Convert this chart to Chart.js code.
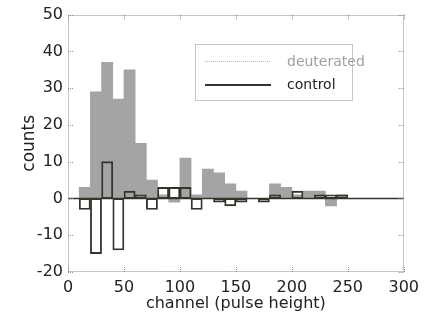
<!DOCTYPE html>
<html>
<head>
<meta charset="utf-8">
<script src="https://cdn.jsdelivr.net/npm/chart.js@4/dist/chart.umd.min.js"></script>
<style>
  html, body { margin: 0; padding: 0; background: #fff; }
  #wrap { width: 425px; height: 323px; }
</style>
</head>
<body>
<div id="wrap"><canvas id="myChart" width="425" height="323"></canvas></div>
<script>
// bin centres (channels), 10 wide bins from 10 to 250
const channels = [15, 25, 35, 45, 55, 65, 75, 85, 95, 105, 115, 125, 135, 145, 155, 165, 175, 185, 195, 205, 215, 225, 235, 245];
const deuterated = [3, 29, 37, 27, 35, 15, 5, 1, -1, 11, 1, 8, 7, 4, 2, 0, 0, 4, 3, 1, 2, 2, -2, 1];
const control = [-3, -15, 10, -14, 2, 1, -3, 3, 3, 3, -3, 0, -1, -2, -1, 0, -1, 1, 0, 2, 0, 1, 1, 1];
const xTicks = [0, 50, 100, 150, 200, 250, 300];
const yTicks = [-20, -10, 0, 10, 20, 30, 40, 50];
const legendLabels = ["deuterated", "control"];

const FONT = "'DejaVu Sans', 'Liberation Sans', Arial, sans-serif";
const GREY = "#a4a4a4";
const DARK = "#34342c";

function toPoints(values) {
  return channels.map((c, i) => ({ x: c, y: values[i] }));
}

// frame, inward ticks, zero line and the boxed legend
const framePlugin = {
  id: "frame",
  afterDatasetsDraw(chart) {
    const { ctx, chartArea: a, scales } = chart;
    const xs = scales.x;
    const ys = scales.y;
    ctx.save();

    const y0 = Math.round(ys.getPixelForValue(0)) + 0.5;
    ctx.strokeStyle = DARK;
    ctx.lineWidth = 1.3;
    ctx.beginPath();
    ctx.moveTo(a.left, y0);
    ctx.lineTo(a.right, y0);
    ctx.stroke();

    ctx.strokeStyle = "#8c8c8c";
    ctx.lineWidth = 1;
    ctx.setLineDash([1, 1]);
    ctx.strokeRect(Math.round(a.left) + 0.5, Math.round(a.top) + 0.5, Math.round(a.width) - 1, Math.round(a.height) - 1);

    const tl = 5;
    ctx.beginPath();
    yTicks.forEach((v) => {
      const py = Math.round(ys.getPixelForValue(v)) + 0.5;
      ctx.moveTo(a.left, py);
      ctx.lineTo(a.left + tl, py);
      ctx.moveTo(a.right, py);
      ctx.lineTo(a.right - tl, py);
    });
    xTicks.forEach((v) => {
      const px = Math.round(xs.getPixelForValue(v)) + 0.5;
      ctx.moveTo(px, a.bottom);
      ctx.lineTo(px, a.bottom - tl);
      ctx.moveTo(px, a.top);
      ctx.lineTo(px, a.top + tl);
    });
    ctx.stroke();

    // legend box
    const lx = 195.5, ly = 44.5, lw = 157, lh = 56;
    ctx.fillStyle = "#fff";
    ctx.fillRect(lx, ly, lw, lh);
    ctx.strokeStyle = "#8c8c8c";
    ctx.strokeRect(lx, ly, lw, lh);

    ctx.strokeStyle = "#b4b4b4";
    ctx.beginPath();
    ctx.moveTo(205, 61.5);
    ctx.lineTo(271, 61.5);
    ctx.stroke();

    ctx.setLineDash([]);
    ctx.strokeStyle = DARK;
    ctx.lineWidth = 2;
    ctx.beginPath();
    ctx.moveTo(205, 85);
    ctx.lineTo(271, 85);
    ctx.stroke();

    ctx.font = "14px " + FONT;
    ctx.textBaseline = "middle";
    ctx.textAlign = "left";
    ctx.fillStyle = "#a0a0a0";
    ctx.fillText(legendLabels[0], 287, 62);
    ctx.fillStyle = "#1e1e1e";
    ctx.fillText(legendLabels[1], 287, 85);
    ctx.restore();
  },
};

new Chart(document.querySelector("#myChart"), {
  type: "bar",
  data: {
    datasets: [
      {
        label: legendLabels[0],
        data: toPoints(deuterated),
        backgroundColor: GREY,
        borderWidth: 0,
        grouped: false,
        barPercentage: 1,
        categoryPercentage: 1,
        order: 2,
      },
      {
        label: legendLabels[1],
        data: toPoints(control),
        backgroundColor: "transparent",
        borderColor: DARK,
        borderWidth: 1.2,
        borderSkipped: false,
        grouped: false,
        barPercentage: 1,
        categoryPercentage: 1,
        order: 1,
      },
    ],
  },
  options: {
    responsive: false,
    animation: false,
    layout: { padding: { top: 13, right: 17, left: 0, bottom: 0 } },
    plugins: {
      legend: { display: false },
      tooltip: { enabled: false },
    },
    scales: {
      x: {
        type: "linear",
        min: 0,
        max: 300,
        offset: false,
        afterFit(scale) {
          scale.height = 51;
        },
        afterBuildTicks(scale) {
          scale.ticks = xTicks.map((v) => ({ value: v }));
        },
        grid: { display: false, drawTicks: false },
        border: { display: false },
        ticks: { color: "#222", padding: 6, maxRotation: 0, font: { family: FONT, size: 16 } },
        title: {
          display: true,
          text: "channel (pulse height)",
          color: "#222",
          padding: { top: 0, bottom: 10 },
          font: { family: FONT, size: 16 },
        },
      },
      y: {
        min: -20,
        max: 50,
        afterFit(scale) {
          scale.width = 68;
        },
        afterBuildTicks(scale) {
          scale.ticks = yTicks.map((v) => ({ value: v }));
        },
        grid: { display: false, drawTicks: false },
        border: { display: false },
        ticks: { color: "#222", padding: 5, font: { family: FONT, size: 16 } },
        title: {
          display: true,
          text: "counts",
          color: "#222",
          padding: { top: 19, bottom: 0 },
          font: { family: FONT, size: 17 },
        },
      },
    },
  },
  plugins: [framePlugin],
});
</script>
</body>
</html>
